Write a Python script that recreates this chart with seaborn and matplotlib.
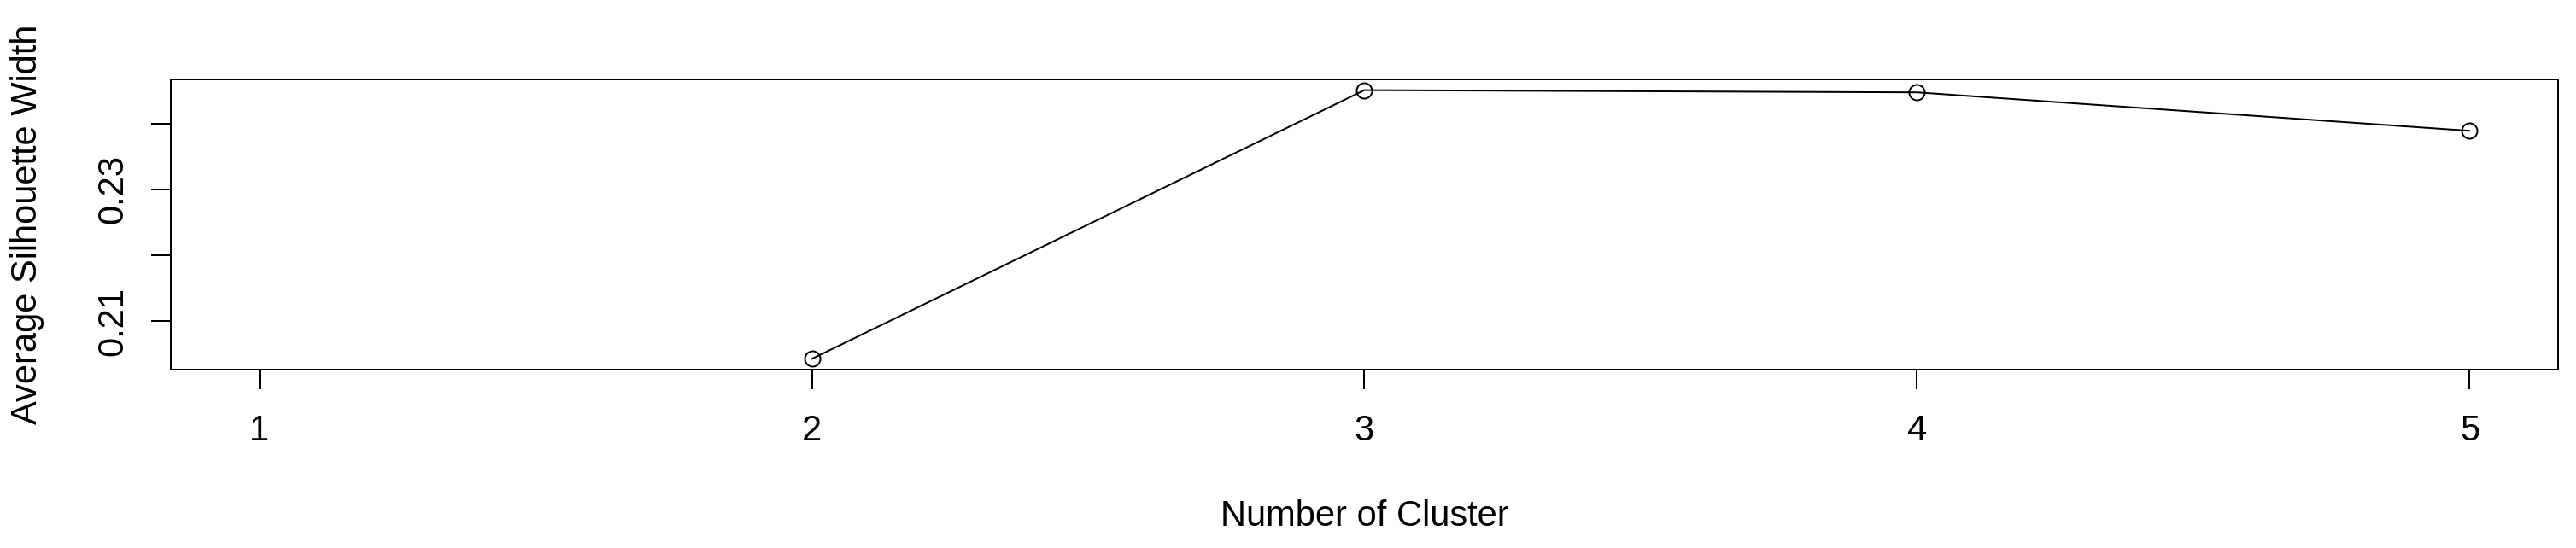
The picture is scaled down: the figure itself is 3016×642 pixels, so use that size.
import numpy as np
import pandas as pd
import seaborn as sns
import matplotlib
matplotlib.use("Agg")
import matplotlib.pyplot as plt

# --- Data ---
clusters = [2, 3, 4, 5]
avg_silhouette = [0.20425, 0.24507, 0.24473, 0.23889]
x_ticks = [1, 2, 3, 4, 5]
y_ticks = [0.21, 0.22, 0.23, 0.24]
y_tick_labels = ["0.21", "", "0.23", ""]

df = pd.DataFrame({"k": clusters, "sil": avg_silhouette})

sns.set_style("white")
plt.rcParams["font.family"] = ["Liberation Sans", "DejaVu Sans"]

fig = plt.figure(figsize=(30.16, 6.42), dpi=100)
ax = fig.add_axes([200 / 3016, 209 / 642, 2795 / 3016, 340 / 642])

sns.lineplot(data=df, x="k", y="sil", ax=ax, color="black", linewidth=1.44,
             marker="o", markersize=13, markerfacecolor="none",
             markeredgecolor="black", markeredgewidth=1.4)

# R-style 4% padding on each side
lo, hi = min(avg_silhouette), max(avg_silhouette)
pad = 0.04 * (hi - lo)
ax.set_ylim(lo - pad, hi + pad)
ax.set_xlim(1 - 0.04 * 4, 5 + 0.04 * 4)

ax.set_xticks(x_ticks)
ax.set_xticklabels([str(t) for t in x_ticks])
ax.set_yticks(y_ticks)
ax.set_yticklabels(y_tick_labels, rotation=90, va="center", ha="right")

for s in ax.spines.values():
    s.set_visible(True)
    s.set_color("black")
    s.set_linewidth(1.44)

ax.tick_params(axis="both", direction="out", length=16.6, width=1.44,
               color="black", labelsize=30, labelcolor="black",
               bottom=True, left=True, top=False, right=False)
ax.tick_params(axis="x", pad=21)
ax.tick_params(axis="y", pad=18)

ax.set_xlabel("Number of Cluster", fontsize=30, color="black")
ax.set_ylabel("Average Silhouette Width", fontsize=30, color="black")
ax.xaxis.set_label_coords(0.5, -0.447)
ax.yaxis.set_label_coords(-0.053, 0.5)

fig.savefig("out.png", dpi=100, facecolor="white")
